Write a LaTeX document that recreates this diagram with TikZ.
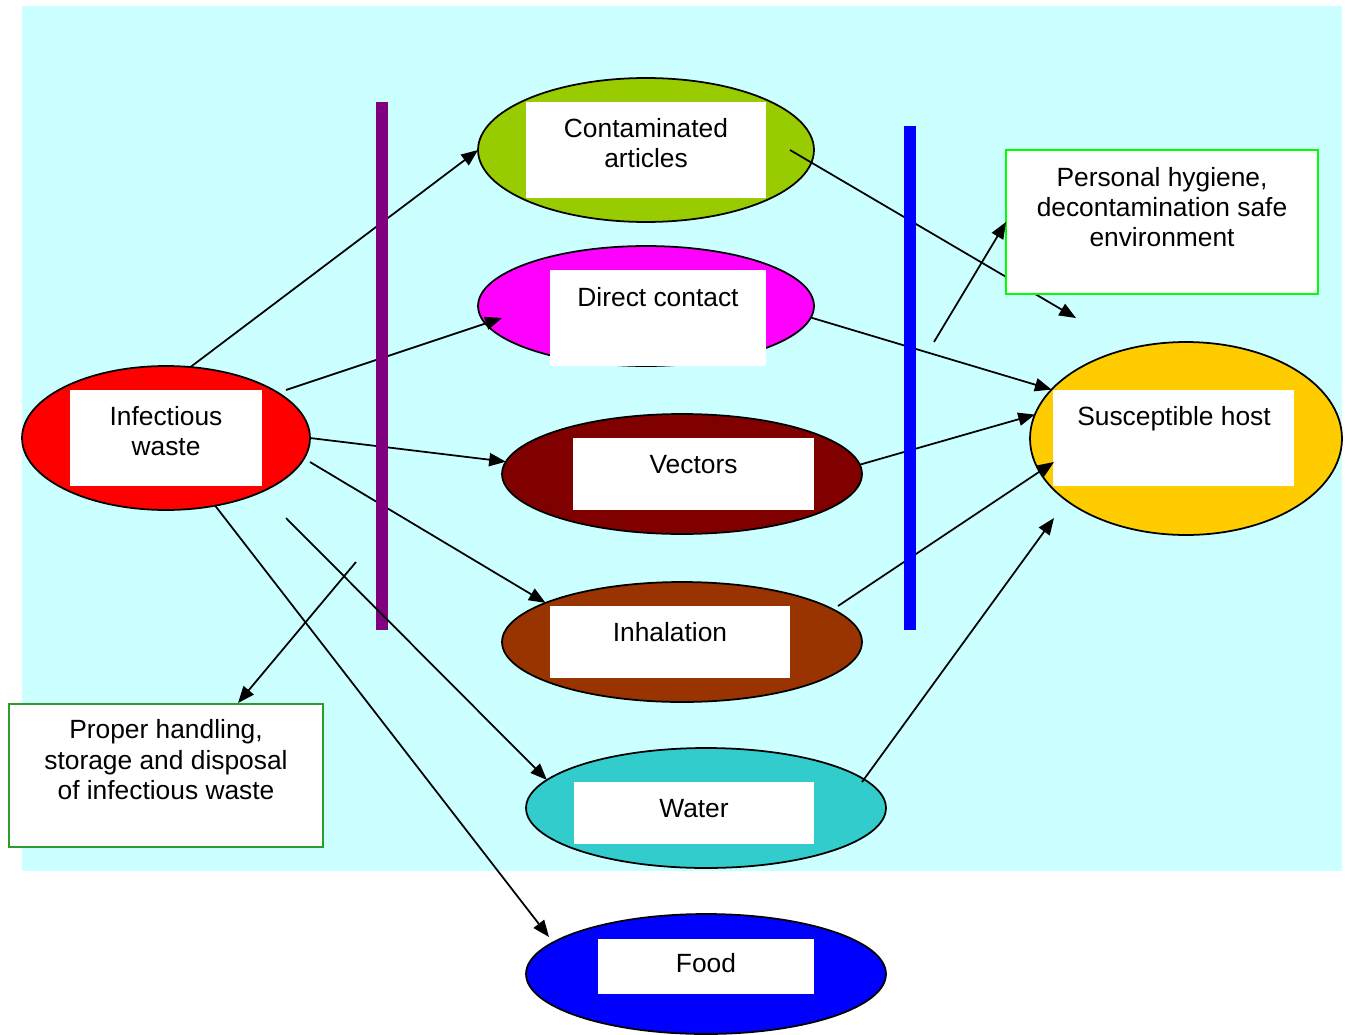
\documentclass[tikz,border=0pt]{standalone}
\usepackage{fontspec}
\setmainfont{Liberation Sans}
\usetikzlibrary{arrows.meta,shapes.geometric}
\definecolor{bgcyan}{HTML}{CCFFFF}
\definecolor{cgreen}{HTML}{99CC00}
\definecolor{cmagenta}{HTML}{FF00FF}
\definecolor{cmaroon}{HTML}{800000}
\definecolor{cbrown}{HTML}{993300}
\definecolor{cteal}{HTML}{33CCCC}
\definecolor{cblue}{HTML}{0000FF}
\definecolor{cred}{HTML}{FF0000}
\definecolor{cgold}{HTML}{FFCC00}
\definecolor{cpurple}{HTML}{800080}
\definecolor{climegreen}{HTML}{00FF00}
\definecolor{cdarkgreen}{HTML}{2E9B2E}
\begin{document}
\begin{tikzpicture}[x=0.02cm,y=-0.02cm,
  oval/.style={ellipse, draw=black, line width=1pt, inner sep=0pt, outer sep=0pt},
  wbox/.style={rectangle, fill=white, inner sep=0pt, outer sep=0pt},
  lbl/.style={anchor=base, inner sep=0pt, outer sep=0pt, font=\fontsize{15}{17}\selectfont},
  conn/.style={draw=black, line width=1pt, -{Triangle[length=9.5pt,width=7.5pt]}},
  notebox/.style={rectangle, fill=white, line width=1.1pt, inner sep=0pt, outer sep=0pt}
]
\useasboundingbox (0,0) rectangle (1348,1034);
\fill[bgcyan] (22,6) rectangle (1342,871);

% ellipses
\node[oval, fill=cred, minimum width=5.76cm, minimum height=2.88cm] (inf) at (166,438) {};
\node[oval, fill=cgreen, minimum width=6.72cm, minimum height=2.88cm] (ca) at (646,150) {};
\node[oval, fill=cmagenta, minimum width=6.72cm, minimum height=2.4cm] (dc) at (646,306) {};
\node[oval, fill=cmaroon, minimum width=7.2cm, minimum height=2.4cm] (vec) at (682,474) {};
\node[oval, fill=cbrown, minimum width=7.2cm, minimum height=2.4cm] (inh) at (682,642) {};
\node[oval, fill=cteal, minimum width=7.2cm, minimum height=2.4cm] (wat) at (706,808) {};
\node[oval, fill=cblue, minimum width=7.2cm, minimum height=2.4cm] (fd) at (706,974) {};
\node[oval, fill=cgold, minimum width=6.24cm, minimum height=3.86cm] (host) at (1186,438.5) {};

% white label boxes
\node[wbox, minimum width=3.84cm, minimum height=1.92cm] (infb) at (166,438) {};
\node[wbox, minimum width=4.8cm, minimum height=1.92cm] (cab) at (646,150) {};
\node[wbox, minimum width=4.32cm, minimum height=1.92cm] (dcb) at (658,318) {};
\node[wbox, minimum width=4.82cm, minimum height=1.44cm] (vecb) at (693.5,474) {};
\node[wbox, minimum width=4.8cm, minimum height=1.44cm] (inhb) at (670,642) {};
\node[wbox, minimum width=4.8cm, minimum height=1.24cm] (watb) at (694,813) {};
\node[wbox, minimum width=4.32cm, minimum height=1.1cm] (fdb) at (706,966.5) {};
\node[wbox, minimum width=4.82cm, minimum height=1.92cm] (hostb) at (1173.5,438) {};

% texts
\node[lbl] (inft1) at (166,425) {Infectious};
\node[lbl] (inft2) at (166,455) {waste};
\node[lbl] (cat1) at (646,137) {Contaminated};
\node[lbl] (cat2) at (646,167) {articles};
\node[lbl] (dct) at (658,306) {Direct contact};
\node[lbl] (vect) at (693.5,473) {Vectors};
\node[lbl] (inht) at (670,641) {Inhalation};
\node[lbl] (watt) at (694,817) {Water};
\node[lbl] (fdt) at (706,972) {Food};
\node[lbl] (hostt) at (1174,425) {Susceptible host};

% free connector ends
\coordinate (s2) at (286,390);
\coordinate (e2) at (502,318);
\coordinate (s4) at (310,462);
\coordinate (s5) at (286,518);
\coordinate (e6) at (549,937);
\coordinate (s7) at (356,562);
\coordinate (e7) at (238,703);
\coordinate (s8) at (790,150);
\coordinate (e8) at (1076,318);
\coordinate (s11) at (838,606);
\coordinate (e11) at (1054,462);
\coordinate (s12) at (862,782);
\coordinate (e12) at (1054,518);
\coordinate (s13) at (934,342);

% connectors (under the bars)
\draw[conn] (inf.71.6) -- (ca.west);
\draw[conn] (s2) -- (e2);
\draw[conn] (inf.east) -- (vec.176.1);
\draw[conn] (s4) -- (inh.164.7);
\draw[conn] (inf.-54.8) -- (e6);
\draw[conn] (s7) -- (e7);
\draw[conn] (s8) -- (e8);
\draw[conn] (dc.-4.1) -- (host.160);
\draw[conn] (vec.3.8) -- (host.171.3);
\draw[conn] (s11) -- (e11);
\draw[conn] (s12) -- (e12);

% barrier bars
\fill[cpurple] (376,102) rectangle (388,630);
\fill[cblue] (904,126) rectangle (916,630);

% connector over the purple bar
\draw[conn] (s5) -- (wat.170.2);

% note boxes
\node[notebox, draw=climegreen, minimum width=6.24cm, minimum height=2.88cm] (ph) at (1162,222) {};
\node[lbl] (pht1) at (1162,186) {Personal hygiene,};
\node[lbl] (pht2) at (1162,216) {decontamination safe};
\node[lbl] (pht3) at (1162,246) {environment};
\draw[conn] (s13) -- (ph.west);

\node[notebox, draw=cdarkgreen, minimum width=6.28cm, minimum height=2.86cm] (pb) at (166,775.5) {};
\node[lbl] (pbt1) at (166,738) {Proper handling,};
\node[lbl] (pbt2) at (166,769) {storage and disposal};
\node[lbl] (pbt3) at (166,799) {of infectious waste};
\end{tikzpicture}
\end{document}
